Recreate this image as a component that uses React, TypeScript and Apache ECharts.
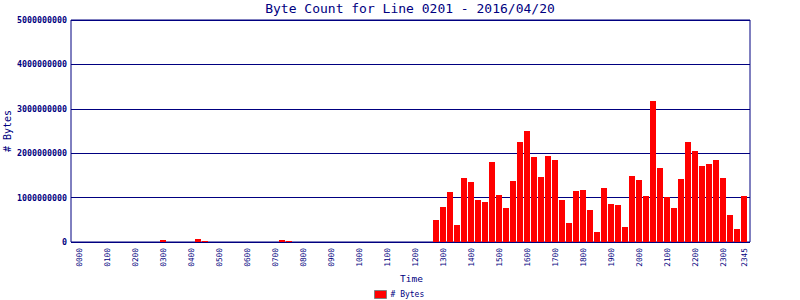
import React, { useEffect, useRef } from "react";
import * as echarts from "echarts";

// 15-minute time slots, 0000 .. 2345
const HOURS = ["00","01","02","03","04","05","06","07","08","09","10","11","12","13","14","15","16","17","18","19","20","21","22","23"];
const MINUTES = ["00","15","30","45"];
const TIMES: string[] = [];
HOURS.forEach((h) => MINUTES.forEach((m) => TIMES.push(h + m)));

// byte counts per slot
const BYTES: number[] = [
  0, 0, 0, 0, 0, 0, 0, 0, 0, 0, 0, 0,
  45000000, 0, 0, 0, 0, 68000000, 23000000, 0, 0, 0, 0, 0,
  0, 0, 0, 0, 0, 45000000, 23000000, 0, 0, 0, 0, 0,
  0, 0, 0, 0, 0, 0, 0, 0, 0, 0, 0, 0,
  0, 0, 0, 495000000, 788000000, 1126000000, 383000000, 1441000000, 1351000000, 946000000, 901000000, 1802000000,
  1059000000, 766000000, 1374000000, 2252000000, 2500000000, 1914000000, 1464000000, 1937000000, 1847000000, 946000000, 428000000, 1149000000,
  1171000000, 721000000, 225000000, 1216000000, 856000000, 833000000, 338000000, 1486000000, 1396000000, 1036000000, 3176000000, 1667000000,
  1014000000, 766000000, 1419000000, 2252000000, 2050000000, 1712000000, 1757000000, 1847000000, 1441000000, 608000000, 293000000, 1036000000,
];

const Y_MIN = 0;
const Y_MAX = 5000000000;
const Y_STEP = 1000000000;

const NAVY = "#000080";
const MONO = "'DejaVu Sans Mono', monospace";

export default function App() {
  const ref = useRef<HTMLDivElement>(null);
  useEffect(() => {
    if (!ref.current) return;
    const chart = echarts.init(ref.current, undefined, { renderer: "svg" });
    chart.setOption({
      animation: false,
      backgroundColor: "#ffffff",
      title: {
        text: "Byte Count for Line 0201 - 2016/04/20",
        left: 410,
        top: 2,
        textAlign: "center",
        padding: 0,
        textStyle: { fontFamily: MONO, fontSize: 13, fontWeight: "normal", color: NAVY },
      },
      legend: {
        data: ["# Bytes"],
        left: 374,
        top: 290,
        padding: 0,
        itemWidth: 12,
        itemHeight: 8,
        itemGap: 4,
        icon: "rect",
        itemStyle: { borderColor: "#808080", borderWidth: 1 },
        textStyle: { fontFamily: MONO, fontSize: 8, color: NAVY, padding: [0, 0, 0, -1] },
      },
      grid: [
        { left: 71, top: 20, width: 679, height: 222, outerBoundsMode: "none", containLabel: false, show: true, borderColor: NAVY, borderWidth: 1, backgroundColor: "transparent" },
        { left: 75.5, top: 20, width: 672, height: 222, outerBoundsMode: "none", containLabel: false },
      ],
      xAxis: [
        { gridIndex: 0, type: "value", show: false, min: 0, max: 1 },
        {
          gridIndex: 1,
          type: "category",
          data: TIMES,
          axisLine: { show: false },
          axisTick: { show: false },
          splitLine: { show: false },
          axisLabel: {
            interval: (i: number) => i % 4 === 0 || i === TIMES.length - 1,
            rotate: 90,
            margin: 6,
            fontFamily: MONO,
            fontSize: 7.8,
            color: NAVY,
          },
          name: "Time",
          nameLocation: "middle",
          nameGap: 31,
          nameMoveOverlap: false,
          nameTextStyle: { fontFamily: MONO, fontSize: 9.5, color: NAVY },
        },
      ],
      yAxis: [
        {
          gridIndex: 0,
          type: "value",
          min: Y_MIN,
          max: Y_MAX,
          interval: Y_STEP,
          axisLine: { show: false },
          axisTick: { show: false },
          splitLine: { lineStyle: { color: NAVY, width: 1 } },
          axisLabel: {
            margin: 4,
            fontFamily: MONO,
            fontSize: 8.3,
            fontWeight: "bold",
            color: NAVY,
            formatter: (v: number) => String(Math.round(v)),
          },
          name: "# Bytes",
          nameLocation: "middle",
          nameRotate: 90,
          nameGap: 59,
          nameMoveOverlap: false,
          nameTextStyle: { fontFamily: MONO, fontSize: 10, color: NAVY },
        },
        { gridIndex: 1, type: "value", min: Y_MIN, max: Y_MAX, interval: Y_STEP, show: false, splitLine: { show: false } },
      ],
      series: [
        {
          name: "# Bytes",
          type: "bar",
          xAxisIndex: 1,
          yAxisIndex: 1,
          data: BYTES,
          barWidth: 6,
          itemStyle: { color: "#ff0000" },
        },
      ],
    });
    return () => chart.dispose();
  }, []);
  return <div ref={ref} style={{ width: 800, height: 300, position: "absolute", left: 0, top: 0 }} />;
}
